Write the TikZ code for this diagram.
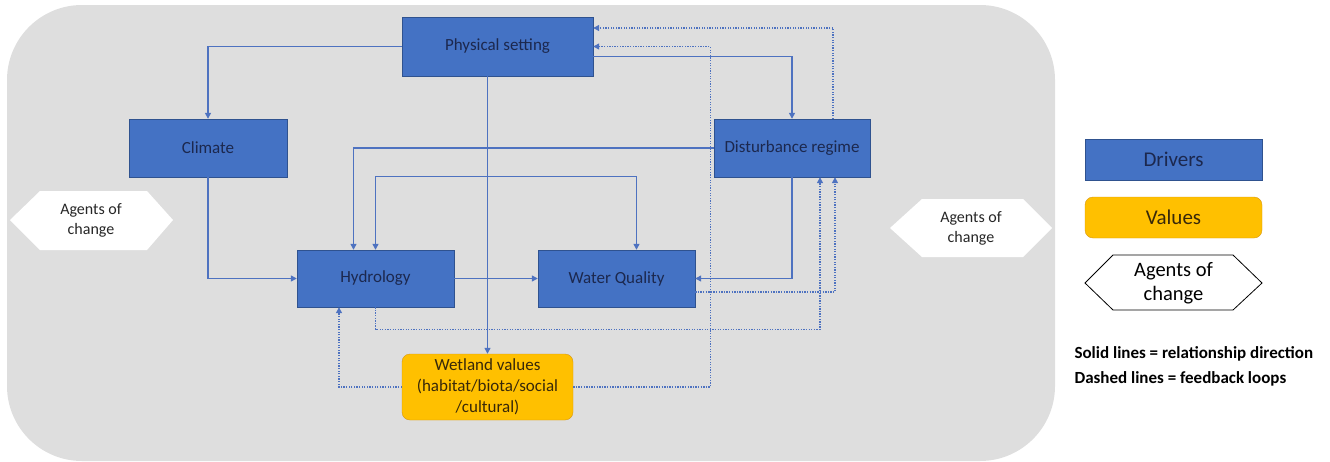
\documentclass[tikz,border=0pt]{standalone}
\usepackage{fontspec}
\setmainfont{Carlito}
\usetikzlibrary{arrows.meta,calc}
\definecolor{driverblue}{RGB}{68,114,196}
\definecolor{driverline}{RGB}{47,82,143}
\definecolor{drivertext}{RGB}{28,40,78}
\definecolor{valueyellow}{RGB}{255,192,0}
\definecolor{valueline}{RGB}{214,150,20}
\definecolor{valuetext}{RGB}{55,40,10}
\definecolor{bggray}{RGB}{222,222,222}
\definecolor{linkblue}{RGB}{78,114,192}
\definecolor{agenttext}{RGB}{38,38,38}
\tikzset{
  driver/.style={draw=driverline, fill=driverblue, text=drivertext,
    font=\fontsize{17}{20}\selectfont, minimum width=157pt,
    minimum height=57pt, inner sep=0pt},
  value/.style={draw=valueline, fill=valueyellow, text=valuetext,
    rounded corners=8pt, align=center, inner sep=0pt},
  agents/.style={text=agenttext, align=center,
    font=\fontsize{16}{20}\selectfont},
  link/.style={linkblue, line width=1.3pt, ->},
  feedback/.style={link, dash pattern=on 1.3pt off 1.3pt},
}
\begin{document}
\begin{tikzpicture}[x=1pt, y=-1pt, >={Triangle[length=6pt,width=6pt]}]
        \def \legx {1173.5}   % centre of legend column
        \useasboundingbox (0,0) rectangle (1330,461);
        % grey panel
        \fill[bggray, rounded corners=75pt] (7,5) rectangle (1055,461);
        % agents of change (panel)
        \fill[white] (10,220) -- (40,191) -- (147,191) -- (173,220) -- (147,250) -- (40,250) -- cycle;
        \node[agents] (agleft) at (91,220) {Agents of\\change};
        \fill[white] (890,228) -- (922,199) -- (1023,199) -- (1052,228) -- (1023,257) -- (922,257) -- cycle;
        \node[agents] (agright) at (971,228) {Agents of\\change};
        % drivers
        \node[driver, minimum width=191pt, minimum height=59pt] (phys) at (497.5,46.5) {Physical setting};
        \node[driver, minimum width=158pt, minimum height=58pt] (clim) at (208,148) {Climate};
        \node[driver, minimum width=156pt, minimum height=58pt] (dist) at (792,148) {Disturbance regime};
        \node[driver] (hydro) at (375.5,278.5) {Hydrology};
        \node[driver] (wq) at (616.5,278.5) {Water Quality};
        % values
        \node[value, minimum width=171pt, minimum height=66pt,
            font=\fontsize{17}{21}\selectfont] (wet) at (487.5,387)
            {Wetland values\\(habitat/biota/social\\/cultural)};
        % relationship direction
        \draw[link] (phys.west) -| (clim.north);
        \draw[link] ($(phys.east)+(0,10)$) -| (dist.north);
        \draw[link] (wet.north |- phys.south) -- (wet.north);
        \draw[link] (clim.south) |- (hydro.west);
        \draw[link] (dist.west) -| ($(hydro.north)+(-22,0)$);
        \draw[link, <->] (hydro.north) -- ++(0,-73) -| ($(wq.north)+(20,0)$);
        \draw[link] (hydro.east) -- (wq.west);
        \draw[link] (dist.south) |- (wq.east);
        % feedback loops
        \draw[feedback] ($(dist.north)+(41,0)$) |- ($(phys.east)+(0,-18.5)$);
        \draw[feedback] (wet.east) -| ($(phys.east)+(117,0)$) -- (phys.east);
        \draw[feedback] (wet.west) -| ($(hydro.south)+(-36.5,0)$);
        \draw[feedback] (hydro.south) -- ++(0,22) -| ($(dist.south)+(28,0)$);
        \draw[feedback] ($(wq.east)+(0,13.5)$) -| ($(dist.south)+(43,0)$);
        % legend
        \node[driver, minimum width=177pt, minimum height=41pt,
            font=\fontsize{21}{24}\selectfont] (legdrv) at (\legx,159.5) {Drivers};
        \node[value, minimum width=177pt, minimum height=41pt,
            font=\fontsize{21}{24}\selectfont] (legval) at (\legx,217.5) {Values};
        \draw[black, line width=0.8pt, fill=white] (1085,283) -- (1113,255) -- (1233,255)
            -- (1262,283) -- (1233,310) -- (1113,310) -- cycle;
        \node[agents, text=black, font=\fontsize{20.5}{24}\selectfont] (legagt) at (\legx,283) {Agents of\\change};
        \node[anchor=west, align=left, font=\bfseries\fontsize{17}{25}\selectfont] (legnote) at (1071,366.5)
            {Solid lines = relationship direction\\Dashed lines = feedback loops};
\end{tikzpicture}
\end{document}
